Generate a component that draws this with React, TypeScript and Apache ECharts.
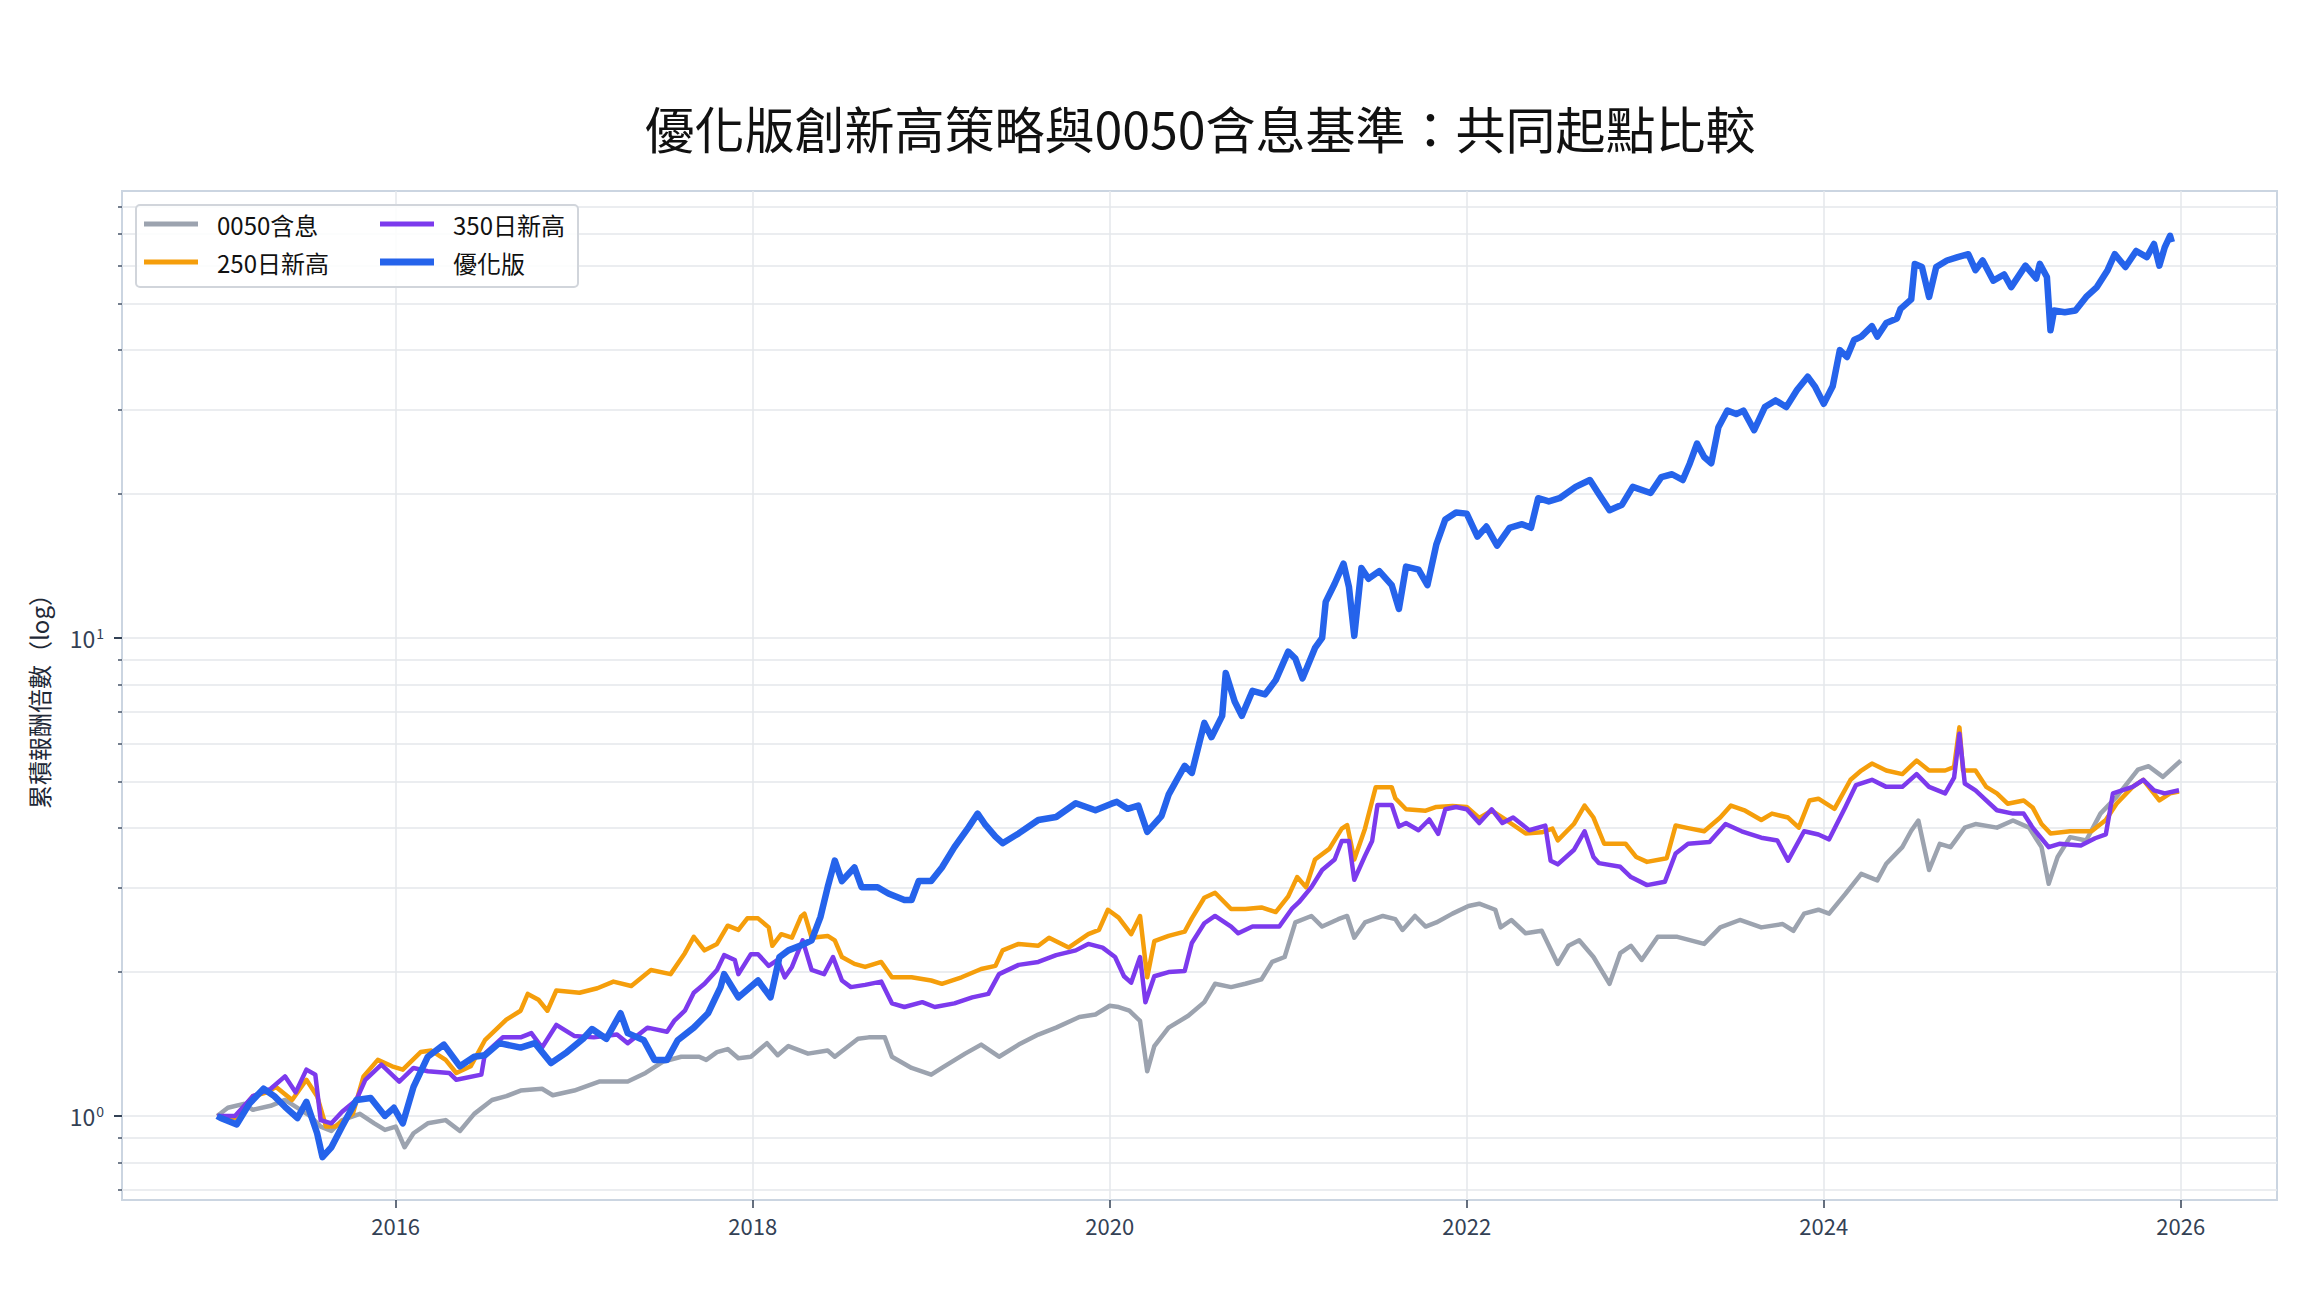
import React, { useEffect, useRef } from 'react';
import * as echarts from 'echarts';

const FONT = '"Noto Sans CJK TC", "Noto Sans", sans-serif';

const titleText = '優化版創新高策略與0050含息基準：共同起點比較';
const yAxisTitle = '累積報酬倍數（log）';
const seriesNames = ['0050含息', '250日新高', '350日新高', '優化版'];
const seriesColors = ['#9ca3af', '#f59e0b', '#7c3aed', '#2563eb'];

const yearTicks = [2016, 2018, 2020, 2022, 2024, 2026];
const logTicks = [0.7, 0.8, 0.9, 1, 2, 3, 4, 5, 6, 7, 8, 9, 10, 20, 30, 40, 50, 60, 70, 80];
const logLabels = [1, 10];

// [年份, 累積倍數]
const bench0050 = [
  [2015.0, 1.0], [2015.06, 1.04], [2015.15, 1.06], [2015.2, 1.03], [2015.3, 1.05], [2015.38, 1.08],
  [2015.45, 1.04], [2015.52, 1.0], [2015.58, 0.95], [2015.64, 0.93], [2015.7, 0.98], [2015.8, 1.01],
  [2015.88, 0.965], [2015.94, 0.935], [2016.0, 0.95], [2016.05, 0.86], [2016.1, 0.92], [2016.18, 0.965],
  [2016.28, 0.98], [2016.36, 0.93], [2016.44, 1.01], [2016.54, 1.08], [2016.62, 1.1], [2016.7, 1.13],
  [2016.82, 1.14], [2016.88, 1.105], [2017.0, 1.13], [2017.14, 1.18], [2017.3, 1.18], [2017.4, 1.23],
  [2017.5, 1.3], [2017.6, 1.33], [2017.7, 1.33], [2017.74, 1.31], [2017.8, 1.36], [2017.86, 1.38],
  [2017.92, 1.32], [2017.99, 1.33], [2018.08, 1.42], [2018.14, 1.34], [2018.2, 1.4], [2018.31, 1.35],
  [2018.42, 1.37], [2018.46, 1.33], [2018.59, 1.45], [2018.65, 1.46], [2018.74, 1.46], [2018.78, 1.33],
  [2018.89, 1.26], [2019.0, 1.22], [2019.06, 1.26], [2019.19, 1.35], [2019.28, 1.41], [2019.38, 1.33],
  [2019.49, 1.41], [2019.6, 1.48], [2019.7, 1.53], [2019.83, 1.61], [2019.92, 1.63], [2020.0, 1.7],
  [2020.05, 1.69], [2020.11, 1.66], [2020.17, 1.58], [2020.21, 1.24], [2020.25, 1.4], [2020.33, 1.53],
  [2020.44, 1.62], [2020.53, 1.73], [2020.59, 1.89], [2020.68, 1.86], [2020.76, 1.89], [2020.85, 1.93],
  [2020.91, 2.1], [2020.98, 2.15], [2021.04, 2.54], [2021.13, 2.62], [2021.19, 2.49], [2021.28, 2.58],
  [2021.33, 2.62], [2021.37, 2.36], [2021.43, 2.54], [2021.53, 2.62], [2021.6, 2.58], [2021.64, 2.45],
  [2021.71, 2.62], [2021.77, 2.49], [2021.83, 2.54], [2021.92, 2.65], [2022.01, 2.75], [2022.07, 2.78],
  [2022.16, 2.7], [2022.19, 2.48], [2022.25, 2.57], [2022.33, 2.41], [2022.42, 2.44], [2022.51, 2.08],
  [2022.57, 2.27], [2022.63, 2.33], [2022.71, 2.15], [2022.8, 1.89], [2022.86, 2.19], [2022.92, 2.27],
  [2022.98, 2.12], [2023.07, 2.37], [2023.18, 2.37], [2023.33, 2.29], [2023.42, 2.48], [2023.53, 2.57],
  [2023.65, 2.48], [2023.77, 2.52], [2023.83, 2.44], [2023.89, 2.65], [2023.97, 2.7], [2024.03, 2.65],
  [2024.12, 2.91], [2024.21, 3.21], [2024.3, 3.11], [2024.35, 3.37], [2024.44, 3.65], [2024.49, 3.95],
  [2024.53, 4.15], [2024.59, 3.27], [2024.65, 3.71], [2024.71, 3.65], [2024.79, 4.01], [2024.85, 4.08],
  [2024.97, 4.01], [2025.06, 4.15], [2025.15, 4.01], [2025.22, 3.65], [2025.26, 3.06], [2025.31, 3.48],
  [2025.38, 3.83], [2025.47, 3.77], [2025.55, 4.29], [2025.64, 4.65], [2025.76, 5.3], [2025.82, 5.39],
  [2025.9, 5.12], [2026.0, 5.54],
];

const high250 = [
  [2015.0, 1.0], [2015.1, 0.99], [2015.2, 1.1], [2015.28, 1.12], [2015.33, 1.15], [2015.42, 1.08],
  [2015.5, 1.19], [2015.56, 1.1], [2015.61, 0.95], [2015.66, 0.95], [2015.76, 1.01], [2015.82, 1.21],
  [2015.9, 1.31], [2015.98, 1.27], [2016.04, 1.25], [2016.14, 1.36], [2016.2, 1.37], [2016.28, 1.31],
  [2016.34, 1.23], [2016.42, 1.27], [2016.5, 1.44], [2016.62, 1.59], [2016.7, 1.66], [2016.74, 1.8],
  [2016.8, 1.75], [2016.85, 1.66], [2016.9, 1.83], [2017.03, 1.81], [2017.13, 1.85], [2017.22, 1.91],
  [2017.32, 1.87], [2017.43, 2.02], [2017.54, 1.98], [2017.62, 2.19], [2017.67, 2.37], [2017.73, 2.22],
  [2017.8, 2.29], [2017.86, 2.5], [2017.92, 2.45], [2017.97, 2.59], [2018.03, 2.59], [2018.09, 2.48],
  [2018.11, 2.27], [2018.16, 2.4], [2018.22, 2.36], [2018.27, 2.61], [2018.29, 2.65], [2018.33, 2.36],
  [2018.42, 2.38], [2018.46, 2.33], [2018.5, 2.15], [2018.57, 2.08], [2018.63, 2.05], [2018.72, 2.1],
  [2018.78, 1.95], [2018.89, 1.95], [2019.0, 1.92], [2019.06, 1.89], [2019.17, 1.95], [2019.28, 2.03],
  [2019.36, 2.06], [2019.4, 2.22], [2019.49, 2.29], [2019.6, 2.27], [2019.66, 2.36], [2019.77, 2.25],
  [2019.88, 2.4], [2019.94, 2.45], [2019.99, 2.7], [2020.05, 2.6], [2020.12, 2.4], [2020.17, 2.62],
  [2020.21, 1.95], [2020.25, 2.32], [2020.33, 2.38], [2020.42, 2.43], [2020.46, 2.59], [2020.53, 2.86],
  [2020.59, 2.93], [2020.68, 2.71], [2020.76, 2.71], [2020.85, 2.73], [2020.93, 2.67], [2021.0, 2.88],
  [2021.05, 3.16], [2021.1, 3.01], [2021.15, 3.44], [2021.23, 3.62], [2021.3, 3.99], [2021.33, 4.06],
  [2021.37, 3.44], [2021.43, 3.99], [2021.49, 4.87], [2021.58, 4.87], [2021.6, 4.62], [2021.66, 4.38],
  [2021.77, 4.35], [2021.83, 4.43], [2021.92, 4.45], [2022.0, 4.43], [2022.07, 4.2], [2022.14, 4.35],
  [2022.22, 4.16], [2022.33, 3.9], [2022.42, 3.92], [2022.48, 3.99], [2022.51, 3.77], [2022.6, 4.08],
  [2022.66, 4.46], [2022.71, 4.21], [2022.77, 3.71], [2022.89, 3.71], [2022.95, 3.48], [2023.01, 3.4],
  [2023.12, 3.46], [2023.17, 4.05], [2023.24, 4.0], [2023.33, 3.94], [2023.42, 4.21], [2023.48, 4.46],
  [2023.56, 4.35], [2023.65, 4.16], [2023.71, 4.29], [2023.8, 4.21], [2023.86, 4.01], [2023.92, 4.57],
  [2023.97, 4.61], [2024.06, 4.39], [2024.15, 5.05], [2024.21, 5.28], [2024.27, 5.46], [2024.35, 5.28],
  [2024.44, 5.19], [2024.52, 5.54], [2024.59, 5.28], [2024.68, 5.28], [2024.73, 5.37], [2024.76, 6.5],
  [2024.78, 5.28], [2024.85, 5.28], [2024.91, 4.88], [2024.97, 4.73], [2025.03, 4.5], [2025.12, 4.57],
  [2025.17, 4.42], [2025.22, 4.08], [2025.27, 3.9], [2025.38, 3.94], [2025.5, 3.94], [2025.58, 4.16],
  [2025.64, 4.5], [2025.73, 4.88], [2025.79, 5.05], [2025.88, 4.57], [2025.94, 4.73], [2025.99, 4.77],
];

const high350 = [
  [2015.0, 1.0], [2015.1, 1.0], [2015.2, 1.1], [2015.3, 1.14], [2015.38, 1.21], [2015.44, 1.12],
  [2015.5, 1.25], [2015.55, 1.22], [2015.58, 0.98], [2015.64, 0.965], [2015.7, 1.02], [2015.78, 1.08],
  [2015.83, 1.19], [2015.92, 1.28], [2016.02, 1.18], [2016.1, 1.26], [2016.18, 1.24], [2016.3, 1.23],
  [2016.34, 1.19], [2016.48, 1.22], [2016.5, 1.35], [2016.6, 1.46], [2016.7, 1.46], [2016.76, 1.49],
  [2016.82, 1.39], [2016.9, 1.55], [2017.0, 1.47], [2017.11, 1.46], [2017.24, 1.48], [2017.3, 1.42],
  [2017.41, 1.53], [2017.52, 1.5], [2017.56, 1.58], [2017.62, 1.66], [2017.67, 1.81], [2017.73, 1.89],
  [2017.8, 2.02], [2017.84, 2.17], [2017.9, 2.12], [2017.92, 1.98], [2017.99, 2.18], [2018.03, 2.18],
  [2018.09, 2.06], [2018.14, 2.12], [2018.18, 1.95], [2018.22, 2.05], [2018.28, 2.33], [2018.33, 2.02],
  [2018.4, 1.98], [2018.45, 2.15], [2018.5, 1.92], [2018.55, 1.86], [2018.63, 1.88], [2018.72, 1.91],
  [2018.78, 1.72], [2018.85, 1.69], [2018.95, 1.73], [2019.02, 1.69], [2019.13, 1.72], [2019.23, 1.77],
  [2019.32, 1.8], [2019.38, 1.98], [2019.49, 2.07], [2019.6, 2.1], [2019.7, 2.17], [2019.81, 2.22],
  [2019.88, 2.29], [2019.96, 2.25], [2020.03, 2.15], [2020.08, 1.96], [2020.12, 1.9], [2020.17, 2.15],
  [2020.2, 1.73], [2020.25, 1.96], [2020.33, 2.0], [2020.42, 2.01], [2020.46, 2.3], [2020.53, 2.53],
  [2020.59, 2.62], [2020.68, 2.49], [2020.72, 2.41], [2020.8, 2.49], [2020.89, 2.49], [2020.95, 2.49],
  [2021.02, 2.71], [2021.06, 2.8], [2021.13, 3.01], [2021.19, 3.27], [2021.26, 3.44], [2021.3, 3.76],
  [2021.34, 3.76], [2021.37, 3.12], [2021.43, 3.5], [2021.47, 3.76], [2021.5, 4.47], [2021.58, 4.47],
  [2021.62, 4.03], [2021.66, 4.1], [2021.73, 3.96], [2021.79, 4.17], [2021.84, 3.89], [2021.88, 4.38],
  [2021.94, 4.43], [2022.0, 4.38], [2022.07, 4.1], [2022.14, 4.38], [2022.2, 4.1], [2022.26, 4.21],
  [2022.35, 3.96], [2022.44, 4.05], [2022.47, 3.42], [2022.51, 3.36], [2022.6, 3.6], [2022.66, 3.94],
  [2022.71, 3.48], [2022.74, 3.38], [2022.86, 3.32], [2022.92, 3.16], [2023.01, 3.04], [2023.11, 3.09],
  [2023.17, 3.54], [2023.24, 3.71], [2023.36, 3.74], [2023.45, 4.08], [2023.54, 3.94], [2023.65, 3.82],
  [2023.74, 3.77], [2023.8, 3.42], [2023.89, 3.94], [2023.97, 3.88], [2024.03, 3.79], [2024.12, 4.42],
  [2024.18, 4.92], [2024.27, 5.05], [2024.35, 4.88], [2024.44, 4.88], [2024.52, 5.19], [2024.59, 4.88],
  [2024.68, 4.73], [2024.73, 5.1], [2024.76, 6.3], [2024.79, 4.96], [2024.85, 4.8], [2024.91, 4.57],
  [2024.97, 4.36], [2025.06, 4.29], [2025.12, 4.29], [2025.17, 4.01], [2025.26, 3.65], [2025.32, 3.71],
  [2025.44, 3.68], [2025.52, 3.81], [2025.58, 3.88], [2025.62, 4.73], [2025.73, 4.88], [2025.79, 5.05],
  [2025.85, 4.8], [2025.91, 4.73], [2025.99, 4.8],
];

const optimized = [
  [2015.0, 1.0], [2015.02, 0.99], [2015.11, 0.96], [2015.18, 1.06], [2015.26, 1.14], [2015.32, 1.1],
  [2015.38, 1.045], [2015.45, 0.99], [2015.5, 1.07], [2015.56, 0.92], [2015.59, 0.82], [2015.64, 0.86],
  [2015.7, 0.95], [2015.78, 1.08], [2015.86, 1.09], [2015.94, 1.0], [2015.99, 1.04], [2016.04, 0.965],
  [2016.1, 1.15], [2016.18, 1.33], [2016.27, 1.41], [2016.36, 1.27], [2016.44, 1.33], [2016.5, 1.34],
  [2016.58, 1.42], [2016.7, 1.39], [2016.78, 1.42], [2016.87, 1.29], [2016.96, 1.36], [2017.05, 1.45],
  [2017.1, 1.52], [2017.18, 1.45], [2017.26, 1.64], [2017.3, 1.49], [2017.39, 1.44], [2017.45, 1.31],
  [2017.52, 1.31], [2017.58, 1.44], [2017.67, 1.53], [2017.75, 1.64], [2017.82, 1.86], [2017.84, 1.98],
  [2017.92, 1.77], [2018.03, 1.92], [2018.1, 1.77], [2018.15, 2.15], [2018.2, 2.22], [2018.29, 2.29],
  [2018.33, 2.33], [2018.38, 2.61], [2018.42, 3.01], [2018.46, 3.42], [2018.5, 3.1], [2018.57, 3.31],
  [2018.61, 3.01], [2018.7, 3.01], [2018.76, 2.92], [2018.85, 2.83], [2018.89, 2.83], [2018.93, 3.1],
  [2019.0, 3.1], [2019.06, 3.31], [2019.13, 3.65], [2019.21, 4.02], [2019.26, 4.29], [2019.3, 4.08],
  [2019.36, 3.84], [2019.4, 3.72], [2019.49, 3.9], [2019.6, 4.16], [2019.7, 4.22], [2019.81, 4.51],
  [2019.92, 4.36], [2020.01, 4.5], [2020.04, 4.54], [2020.1, 4.39], [2020.16, 4.46], [2020.21, 3.93],
  [2020.29, 4.24], [2020.33, 4.7], [2020.38, 5.08], [2020.42, 5.4], [2020.46, 5.22], [2020.53, 6.64],
  [2020.57, 6.2], [2020.63, 6.87], [2020.65, 8.45], [2020.7, 7.36], [2020.74, 6.87], [2020.8, 7.75],
  [2020.87, 7.62], [2020.93, 8.16], [2021.0, 9.36], [2021.04, 9.05], [2021.08, 8.23], [2021.15, 9.53],
  [2021.19, 10.0], [2021.21, 11.9], [2021.26, 12.98], [2021.31, 14.3], [2021.34, 12.8], [2021.37, 10.1],
  [2021.41, 14.0], [2021.45, 13.3], [2021.51, 13.8], [2021.58, 12.9], [2021.62, 11.5], [2021.66, 14.1],
  [2021.73, 13.9], [2021.78, 12.9], [2021.83, 15.7], [2021.88, 17.7], [2021.94, 18.3], [2022.0, 18.2],
  [2022.06, 16.3], [2022.11, 17.1], [2022.17, 15.6], [2022.24, 17.0], [2022.31, 17.3], [2022.36, 17.0],
  [2022.4, 19.6], [2022.46, 19.3], [2022.52, 19.6], [2022.61, 20.7], [2022.69, 21.4], [2022.74, 20.0],
  [2022.8, 18.5], [2022.87, 19.0], [2022.93, 20.7], [2023.03, 20.1], [2023.09, 21.7], [2023.15, 22.0],
  [2023.21, 21.4], [2023.25, 23.2], [2023.29, 25.5], [2023.33, 23.9], [2023.37, 23.2], [2023.41, 27.6],
  [2023.46, 29.9], [2023.51, 29.4], [2023.55, 29.9], [2023.61, 27.2], [2023.67, 30.4], [2023.73, 31.4],
  [2023.79, 30.4], [2023.85, 33.0], [2023.91, 35.2], [2023.95, 33.6], [2024.0, 30.9], [2024.05, 33.6],
  [2024.09, 40.0], [2024.13, 38.7], [2024.17, 42.0], [2024.21, 42.7], [2024.27, 44.9], [2024.3, 42.7],
  [2024.35, 45.6], [2024.41, 46.6], [2024.43, 48.8], [2024.49, 51.1], [2024.51, 60.6], [2024.55, 59.7],
  [2024.59, 51.7], [2024.63, 59.7], [2024.69, 61.6], [2024.75, 62.6], [2024.81, 63.5], [2024.85, 58.8],
  [2024.89, 61.6], [2024.95, 55.9], [2025.01, 57.6], [2025.05, 54.2], [2025.13, 60.1], [2025.19, 56.5],
  [2025.21, 60.6], [2025.25, 56.9], [2025.27, 44.0], [2025.29, 48.4], [2025.35, 48.0], [2025.41, 48.4],
  [2025.47, 51.7], [2025.53, 54.2], [2025.59, 58.8], [2025.63, 63.5], [2025.69, 59.7], [2025.75, 64.5],
  [2025.81, 62.6], [2025.85, 66.7], [2025.88, 60.1], [2025.91, 65.6], [2025.94, 69.4], [2025.95, 67.3],
];

const seriesData = [bench0050, high250, high350, optimized];
const seriesWidths = [4.5, 4.5, 4.5, 6.5];

const App: React.FC = () => {
  const chartRef = useRef<HTMLDivElement>(null);

  useEffect(() => {
    if (!chartRef.current) return;
    document.body.style.margin = '0';
    const chart = echarts.init(chartRef.current, null, { renderer: 'svg' });

    // 圖例分成兩欄，每個項目單獨放置
    const legendSlots = [
      { left: 139, top: 205 },
      { left: 139, top: 243 },
      { left: 375, top: 205 },
      { left: 375, top: 243 },
    ];

    chart.setOption({
      animation: false,
      backgroundColor: '#ffffff',
      textStyle: { fontFamily: FONT },
      grid: {
        left: 122,
        right: 27,
        top: 191,
        bottom: 96,
        show: true,
        borderColor: '#cbd5e1',
        borderWidth: 2,
        backgroundColor: 'transparent',
      },
      graphic: [
        {
          type: 'text',
          x: 1200,
          y: 127,
          style: {
            text: titleText,
            fontFamily: FONT,
            fontSize: 50,
            fill: '#111111',
            textAlign: 'center',
            textVerticalAlign: 'middle',
          },
        },
        {
          type: 'rect',
          z: 3,
          shape: { x: 136, y: 205, width: 442, height: 82, r: 4 },
          style: { fill: 'rgba(255,255,255,0.85)', stroke: '#d1d5db', lineWidth: 2 },
        },
      ],
      legend: seriesNames.map((name, i) => ({
        show: true,
        z: 5,
        left: legendSlots[i].left,
        top: legendSlots[i].top,
        orient: 'vertical',
        data: [name],
        icon: 'rect',
        itemWidth: 54,
        itemHeight: i === 3 ? 7 : 5,
        textStyle: {
          fontFamily: FONT,
          fontSize: 24,
          lineHeight: 28,
          color: '#111111',
          padding: [0, 0, 0, 14],
        },
        selectedMode: false,
      })),
      xAxis: {
        type: 'value',
        min: 2014.467,
        max: 2026.539,
        axisLine: { show: false },
        axisTick: {
          show: true,
          length: 8,
          lineStyle: { color: '#334155', width: 1.5 },
          customValues: yearTicks,
        },
        axisLabel: {
          customValues: yearTicks,
          formatter: (v: number) => String(Math.round(v)),
          fontFamily: FONT,
          fontSize: 22,
          color: '#334155',
          margin: 14,
        },
        splitLine: { show: true, lineStyle: { color: '#e5e7eb', width: 1.5 } },
      },
      yAxis: [
        {
          type: 'log',
          logBase: 10,
          min: 0.667,
          max: 86.1,
          name: yAxisTitle,
          nameLocation: 'middle',
          nameGap: 72,
          nameRotate: 90,
          nameTextStyle: { fontFamily: FONT, fontSize: 24, color: '#1f2937' },
          axisLine: { show: false },
          axisTick: {
            show: true,
            length: 4,
            lineStyle: { color: '#475569', width: 1.5 },
            customValues: logTicks,
          },
          axisLabel: {
            customValues: logLabels,
            margin: 18,
            formatter: (v: number) => `{b|10}{s|${Math.round(Math.log10(v))}}`,
            rich: {
              b: { fontFamily: FONT, fontSize: 23, color: '#334155' },
              s: { fontFamily: FONT, fontSize: 14, color: '#334155', verticalAlign: 'top', padding: [0, 0, 8, 1] },
            },
          },
          splitLine: { show: true, lineStyle: { color: '#e5e7eb', width: 1.5 } },
        },
        {
          type: 'log',
          logBase: 10,
          min: 0.667,
          max: 86.1,
          position: 'left',
          axisLine: { show: false },
          axisTick: {
            show: true,
            length: 8,
            lineStyle: { color: '#334155', width: 2 },
            customValues: logLabels,
          },
          axisLabel: { show: false },
          splitLine: { show: false },
        },
      ],
      series: seriesNames.map((name, i) => ({
        name,
        type: 'line',
        data: seriesData[i],
        showSymbol: false,
        symbol: 'none',
        color: seriesColors[i],
        lineStyle: { color: seriesColors[i], width: seriesWidths[i], join: 'round' },
        z: 2 + i * 0.1,
      })),
    });

    return () => {
      chart.dispose();
    };
  }, []);

  return <div ref={chartRef} style={{ width: 2304, height: 1296 }} />;
};

export default App;
